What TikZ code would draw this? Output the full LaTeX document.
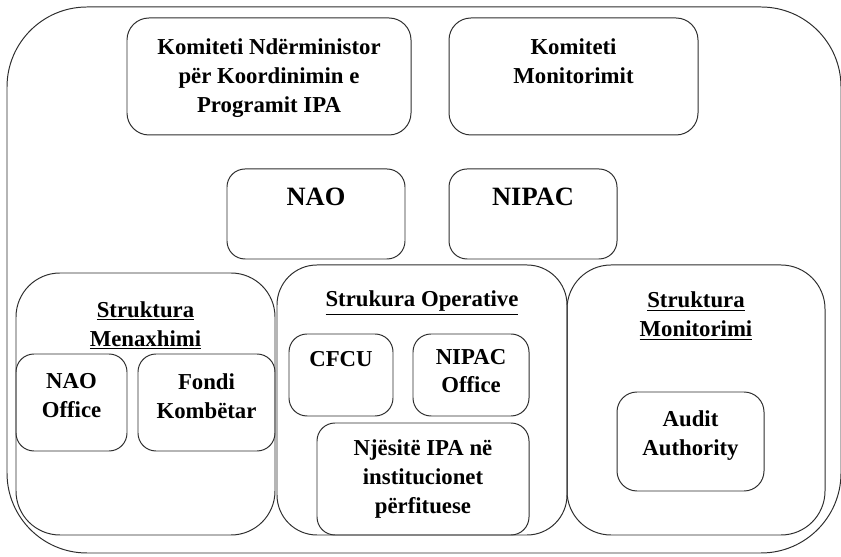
\documentclass[tikz,border=0pt]{standalone}
\usepackage{fontspec}
\setmainfont{Liberation Serif}
\usepackage{tikz}
\usetikzlibrary{positioning}
\definecolor{edge}{HTML}{2E2E2E}

\begin{document}
\begin{tikzpicture}[
    box/.style={rectangle, draw=edge, line width=0.7pt, rounded corners=#1, inner sep=0pt},
    box/.default=0.45cm,
    lbl/.style={align=center, inner sep=0pt, font=\fontsize{16.2}{20.5}\selectfont\bfseries},
    biglbl/.style={lbl, font=\fontsize{18.8}{22}\selectfont\bfseries}
]
    \useasboundingbox (0,0) rectangle (21.025,13.925);

    % Outer frame
    \node[box=2cm, minimum width=20.85cm, minimum height=13.65cm] (frame) at (10.6,6.925) {};

    % Committees
    \node[box=0.55cm, minimum width=7.1cm, minimum height=2.925cm] (kndk) at (6.725,12.0125) {};
    \node[lbl, below=0.52cm of kndk.north] (kndkT) {Komiteti Ndërministor\\për Koordinimin e\\Programit IPA};
    \node[box=0.55cm, minimum width=6.225cm, minimum height=2.925cm] (kmon) at (14.3375,12.0125) {};
    \node[lbl, below=0.52cm of kmon.north] (kmonT) {Komiteti\\Monitorimit};

    % NAO and NIPAC
    \node[box, minimum width=4.45cm, minimum height=2.25cm] (nao) at (7.9,8.575) {};
    \node[biglbl, below=0.47cm of nao.north] (naoT) {NAO};
    \node[box, minimum width=4.2cm, minimum height=2.25cm] (nipac) at (13.325,8.575) {};
    \node[biglbl, below=0.47cm of nipac.north] (nipacT) {NIPAC};

    % Struktura Menaxhimi
    \node[box=1.1cm, minimum width=6.475cm, minimum height=6.55cm] (menax) at (3.6375,3.825) {};
    \node[lbl, below=0.72cm of menax.north] (menaxT) {\underline{Struktura}\\\underline{Menaxhimi}};
    \node[box, minimum width=2.775cm, minimum height=2.425cm] (naooff) at (1.7875,3.8625) {};
    \node[lbl, below=0.5cm of naooff.north] (naooffT) {NAO\\Office};
    \node[box, minimum width=3.425cm, minimum height=2.425cm] (fondi) at (5.1625,3.8625) {};
    \node[lbl, below=0.5cm of fondi.north] (fondiT) {Fondi\\Kombëtar};

    % Strukura Operative
    \node[box=1cm, minimum width=7.25cm, minimum height=6.75cm] (oper) at (10.55,3.925) {};
    \node[lbl, below=0.66cm of oper.north] (operT) {\underline{Strukura Operative}};
    \node[box, minimum width=2.6cm, minimum height=2.05cm] (cfcu) at (8.525,4.55) {};
    \node[lbl, below=0.43cm of cfcu.north] (cfcuT) {CFCU};
    \node[box, minimum width=2.9cm, minimum height=2.05cm] (nipoff) at (11.775,4.55) {};
    \node[lbl, below=0.38cm of nipoff.north] (nipoffT) {NIPAC\\Office};
    \node[box, minimum width=5.3cm, minimum height=2.8cm] (njesi) at (10.575,1.95) {};
    \node[lbl, below=0.42cm of njesi.north] (njesiT) {Njësitë IPA në\\institucionet\\përfituese};

    % Struktura Monitorimi
    \node[box=1.1cm, minimum width=6.45cm, minimum height=6.75cm] (monit) at (17.4,3.925) {};
    \node[lbl, below=0.68cm of monit.north] (monitT) {\underline{Struktura}\\\underline{Monitorimi}};
    \node[box=0.5cm, minimum width=3.675cm, minimum height=2.475cm] (audit) at (17.2625,2.8875) {};
    \node[lbl, below=0.48cm of audit.north] (auditT) {Audit\\Authority};
\end{tikzpicture}
\end{document}
